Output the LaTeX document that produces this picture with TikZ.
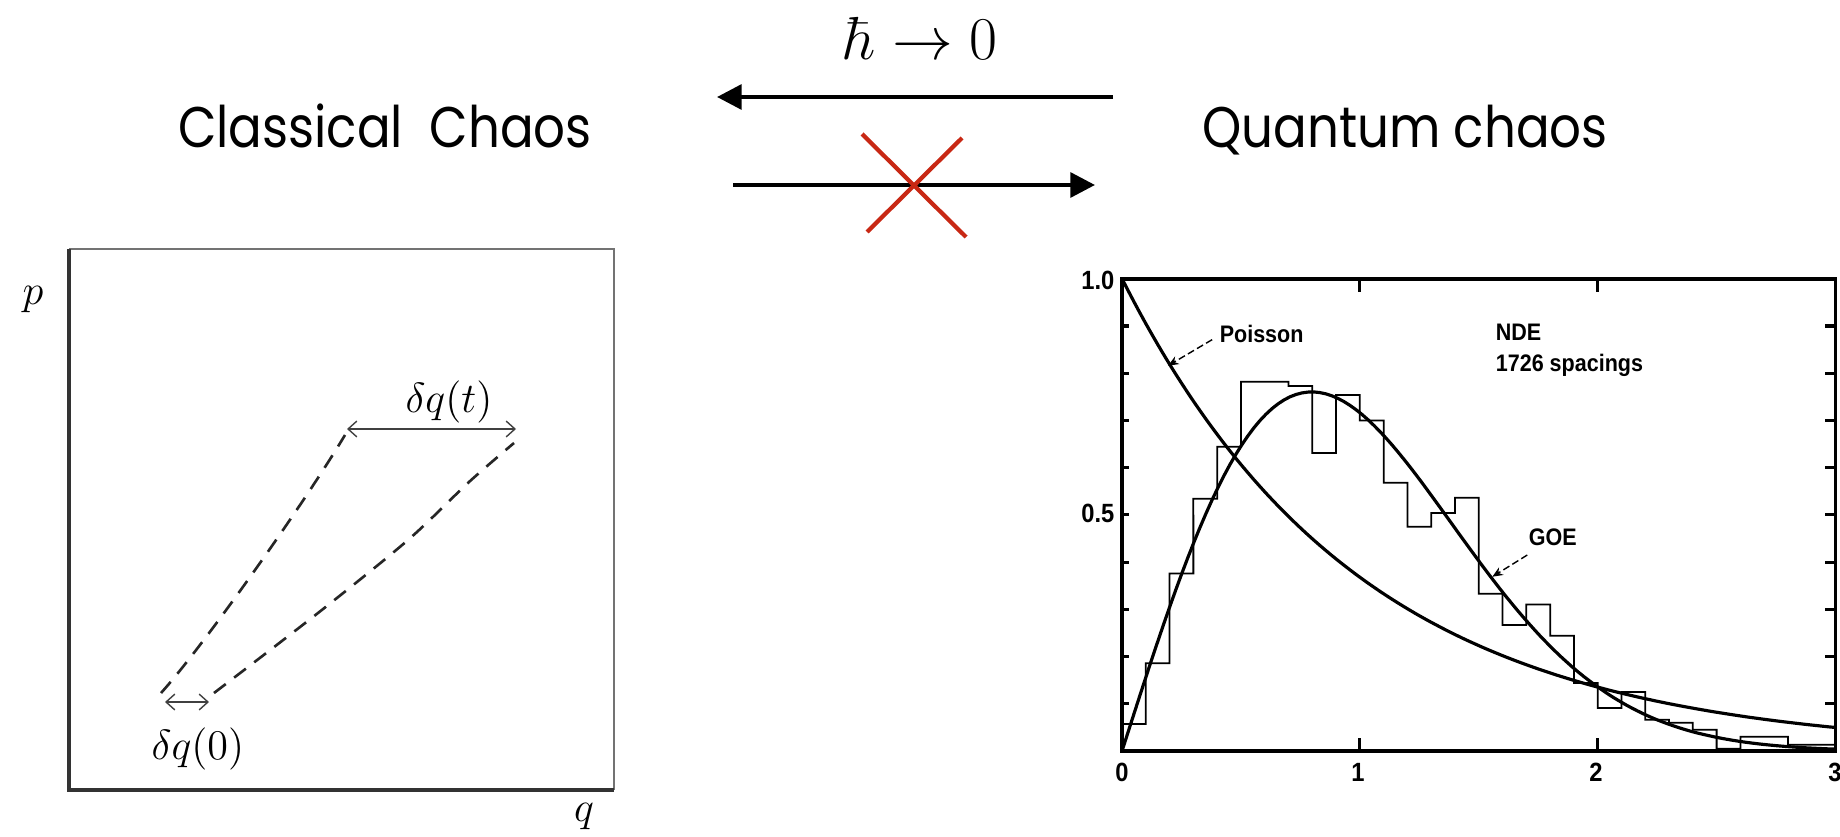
\documentclass[tikz,border=0pt]{standalone}
\usepackage{fontspec}
\newfontfamily\titlefont[FakeStretch=0.87]{Poppins}
\newfontfamily\plotfont[FakeStretch=0.9]{Liberation Sans}
\usetikzlibrary{arrows.meta}
\definecolor{crossred}{RGB}{200,40,20}

\begin{document}
\begin{tikzpicture}[x=0.01cm, y=-0.01cm, >={Triangle[length=7pt, width=7pt]},
	title/.style={font=\titlefont\fontsize{16.3}{19}\selectfont, anchor=base, inner sep=0pt},
	mathlab/.style={font=\fontsize{13}{15}\selectfont, inner sep=0pt},
	plotlab/.style={font=\plotfont\bfseries\fontsize{6.8}{8}\selectfont, inner sep=0pt},
	declare function={goe(\s)=pi/2*\s*exp(-pi*\s*\s/4);}]
	% page frame
	\useasboundingbox (0,0) rectangle (1840,837);
	% titles
	\node[title] (classical) at (385,148) {Classical\ \ Chaos};
	\node[title] (quantum) at (1405,148) {Quantum chaos};
	\node[anchor=base, inner sep=0pt, font=\fontsize{17}{20}\selectfont] (limit) at (921,60) {$\hbar\to 0$};
	% arrow ends
	\path
	(1113,97) coordinate (L1)
	(717,97) coordinate (L2)
	(733,185) coordinate (R1)
	(1095,185) coordinate (R2)
	;
	\draw[->, line width=1.2pt] (L1) -- (L2);
	\draw[->, line width=1.2pt] (R1) -- (R2);
	% red cross
	\draw[crossred, line width=1.2pt] (862,134) -- (966,237) (962,138) -- (867,232);
	% phase space box
	\draw[black!55, line width=0.6pt] (69,249) -- (614,249) -- (614,790);
	\draw[black!80, line width=0.9pt] (69,249) -- (69,790) -- (614,790);
	\node[mathlab] (p) at (33,300) {$p$};
	\node[mathlab] (q) at (584,817) {$q$};
	% two trajectories
	\draw[dashed, dash pattern=on 4.2pt off 3pt, line width=0.75pt, black!85]
	(161,693) .. controls (200,650) and (300,510) .. (345,435);
	\draw[dashed, dash pattern=on 4.2pt off 3pt, line width=0.75pt, black!85]
	plot[smooth] coordinates {(214,693) (318,613) (408,540) (469,482) (514,443)};
	% separations
	\path
	(165,702) coordinate (D0a)
	(209,702) coordinate (D0b)
	(347,429) coordinate (Dta)
	(516,429) coordinate (Dtb)
	;
	\draw[{Straight Barb[length=2.5pt, width=4.5pt]}-{Straight Barb[length=2.5pt, width=4.5pt]}, black!75, line width=0.4pt] (D0a) -- (D0b);
	\draw[{Straight Barb[length=2.5pt, width=4.5pt]}-{Straight Barb[length=2.5pt, width=4.5pt]}, black!75, line width=0.4pt] (Dta) -- (Dtb);
	\node[mathlab] (dq0) at (198,749) {$\delta q(0)$};
	\node[mathlab] (dqt) at (449,402) {$\delta q(t)$};
	% spacing distribution
	\begin{scope}[shift={(1122,751)}, x=2.377cm, y=4.72cm]
	\draw[line width=1.1pt] (0,0) rectangle (3,1);
	\foreach \t in {0.1,0.2,...,0.95} {
	\draw[line width=0.9pt] (0,\t) -- ++(0.03,0);
	\draw[line width=0.9pt] (3,\t) -- ++(-0.045,0);
	}
	\foreach \t in {1,2} {
	\draw[line width=0.9pt] (\t,0) -- ++(0,0.028);
	\draw[line width=0.9pt] (\t,1) -- ++(0,-0.028);
	}
	% histogram
	\draw[line width=0.5pt] (0,0)
	\foreach \h [count=\i from 0] in {0.057, 0.186, 0.376, 0.534, 0.644, 0.782, 0.782, 0.773, 0.631, 0.754, 0.70, 0.568, 0.475, 0.504, 0.536, 0.333, 0.267, 0.31, 0.244, 0.144, 0.091, 0.125, 0.066, 0.06, 0.045, 0.005, 0.03, 0.03, 0.013, 0.013} {
	-- (\i/10,\h) -- (\i/10+0.1,\h)
	} -- (3,0);
	% curves
	\draw[line width=0.9pt] plot[domain=0:3, samples=120] (\x,{exp(-\x)});
	\draw[line width=0.9pt] plot[domain=0:3, samples=120] (\x,{goe(\x)});
	% labels and leaders
	\node[plotlab, anchor=west] (poisson) at (0.408,0.883) {Poisson};
	\node[plotlab, anchor=west] (nde) at (1.569,0.886) {NDE};
	\node[plotlab, anchor=west] (spacings) at (1.569,0.816) {1726 spacings};
	\node[plotlab, anchor=west] (goe) at (1.708,0.453) {GOE};
	\draw[dashed, dash pattern=on 2pt off 1pt, line width=0.4pt, -{Stealth[length=3pt, width=2.5pt]}] (0.379,0.871) -- (0.194,0.816);
	\draw[dashed, dash pattern=on 2pt off 1pt, line width=0.4pt, -{Stealth[length=3pt, width=2.5pt]}] (1.704,0.415) -- (1.557,0.369);
	\end{scope}
	% axis numbers
	\node[plotlab, anchor=east, font=\plotfont\bfseries\fontsize{7.5}{9}\selectfont] (y10) at (1115,280) {1.0};
	\node[plotlab, anchor=east, font=\plotfont\bfseries\fontsize{7.5}{9}\selectfont] (y05) at (1115,513) {0.5};
	\foreach \n/\px in {0/1122, 1/1358, 2/1596, 3/1835} {
	\node[plotlab, font=\plotfont\bfseries\fontsize{7.5}{9}\selectfont] (x\n) at (\px,772) {\n};
	}
\end{tikzpicture}
\end{document}
